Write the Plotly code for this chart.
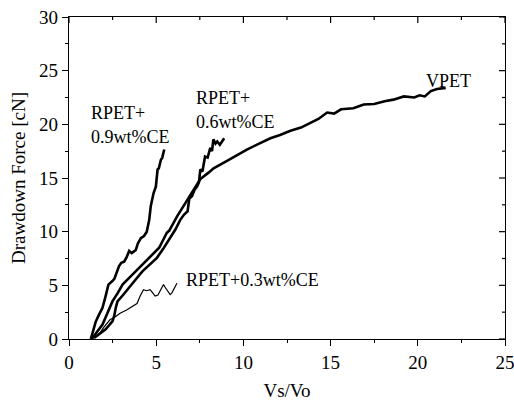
import plotly.graph_objects as go

# ---- data ----
x_09 = [1.25, 1.4, 1.53, 1.7, 1.92, 2.1, 2.26, 2.49, 2.6, 2.87, 3.0, 3.16, 3.3, 3.45, 3.6, 3.83,
        3.95, 4.12, 4.3, 4.46, 4.6, 4.69, 4.75, 4.85, 4.98, 5.08, 5.15, 5.27, 5.35, 5.46]
y_09 = [0.0, 0.8, 1.6, 2.2, 2.9, 4.0, 5.07, 5.4, 5.6, 6.8, 7.1, 7.2, 7.6, 8.2, 8.0, 8.3,
        8.9, 9.4, 9.6, 10.0, 11.1, 12.4, 12.9, 13.6, 14.2, 15.8, 15.9, 16.7, 16.9, 17.65]

x_06 = [1.44, 1.8, 2.1, 2.49, 2.6, 2.68, 2.78, 3.1, 3.45, 3.8, 4.21, 4.6, 4.98, 5.04, 5.4, 5.8,
        6.1, 6.38, 6.6, 6.8, 6.86, 6.9, 7.05, 7.2, 7.34, 7.45, 7.53, 7.65, 7.8, 7.95, 8.1, 8.2,
        8.28, 8.4, 8.5, 8.65, 8.9]
y_06 = [0.1, 0.5, 0.9, 1.65, 2.2, 2.9, 3.5, 4.1, 4.76, 5.5, 6.3, 6.9, 7.4, 7.56, 8.4, 9.4,
        10.2, 11.1, 11.6, 11.9, 13.0, 13.1, 13.3, 13.9, 14.2, 14.6, 15.8, 15.6, 17.0, 16.9, 17.8, 17.5,
        18.6, 18.2, 18.4, 18.1, 18.7]

x_03 = [1.3, 1.55, 1.78, 2.0, 2.36, 2.6, 2.93, 3.3, 3.7, 3.9, 4.08, 4.27, 4.45, 4.65, 4.8, 4.94,
        5.1, 5.25, 5.42, 5.52, 5.61, 5.8, 5.9, 6.0, 6.19]
y_03 = [0.0, 0.3, 0.57, 1.1, 1.81, 2.0, 2.4, 2.7, 3.05, 3.3, 4.0, 4.6, 4.5, 4.6, 4.3, 4.0,
        4.1, 4.6, 5.07, 4.8, 4.6, 4.14, 4.3, 4.6, 5.2]

x_v = [1.3, 1.6, 1.92, 2.2, 2.49, 2.8, 3.07, 3.45, 3.83, 4.2, 4.6, 5.17, 5.61, 5.75, 6.19, 6.5,
       6.76, 7.0, 7.53, 8.0, 8.29, 9.06, 9.6, 10.2, 10.9, 11.55, 12.1, 12.7, 13.3, 13.85, 14.3,
       14.8, 15.2, 15.6, 16.3, 16.9, 17.5, 18.1, 18.6, 19.2, 19.8, 20.1, 20.4, 20.75, 21.1, 21.6]
y_v = [0.0, 0.6, 1.34, 2.4, 3.5, 4.3, 5.07, 5.7, 6.3, 6.9, 7.56, 8.5, 9.9, 10.1, 11.4, 12.2,
       13.0, 13.6, 14.9, 15.5, 15.9, 16.6, 17.1, 17.65, 18.2, 18.7, 19.0, 19.4, 19.7, 20.1, 20.5,
       21.1, 21.0, 21.4, 21.5, 21.85, 21.9, 22.15, 22.3, 22.6, 22.5, 22.7, 22.6, 23.1, 23.3, 23.4]

labels = ["RPET+", "0.9wt%CE", "RPET+", "0.6wt%CE", "VPET", "RPET+0.3wt%CE"]
label_x = [1.15, 1.15, 7.18, 7.18, 20.33, 6.61]
label_y = [21.1, 18.86, 22.5, 20.26, 24.0, 5.47]

x_ticks = [0, 5, 10, 15, 20, 25]
y_ticks = [0, 5, 10, 15, 20, 25, 30]
x_minor = [2.5, 7.5, 12.5, 17.5, 22.5]
y_minor = [2.5, 7.5, 12.5, 17.5, 22.5, 27.5]

x_title = "Vs/Vo"
y_title = "Drawdown Force [cN]"
x_range = [0, 25]
y_range = [0, 30]

FONT = "Liberation Serif, Times New Roman, serif"
W, H = 514, 401
M = dict(l=69, r=9, t=17, b=62)
PLOT_W = W - M["l"] - M["r"]
PLOT_H = H - M["t"] - M["b"]

fig = go.Figure()
for xs, ys, w, nm in [(x_09, y_09, 2.6, "RPET+0.9wt%CE"),
                      (x_06, y_06, 2.6, "RPET+0.6wt%CE"),
                      (x_v, y_v, 2.6, "VPET"),
                      (x_03, y_03, 1.2, "RPET+0.3wt%CE")]:
    fig.add_trace(go.Scatter(x=xs, y=ys, mode="lines", name=nm,
                             line=dict(color="black", width=w)))

for t, xx, yy in zip(labels, label_x, label_y):
    fig.add_annotation(x=xx, y=yy, text=t, showarrow=False, xanchor="left",
                       yanchor="middle", font=dict(family=FONT, size=18, color="black"))

# inward ticks on the top and right frame edges (Origin-style box)
tick_line = dict(color="black", width=1.2)
for vals, length in [(x_ticks, 6), (x_minor, 3)]:
    for v in vals:
        fig.add_shape(type="line", xref="x", yref="paper", x0=v, x1=v,
                      y0=1, y1=1 - length / PLOT_H, line=tick_line)
for vals, length in [(y_ticks, 6), (y_minor, 3)]:
    for v in vals:
        fig.add_shape(type="line", xref="paper", yref="y", y0=v, y1=v,
                      x0=1, x1=1 - length / PLOT_W, line=tick_line)

common = dict(showgrid=False, zeroline=False, mirror=True, showline=True, linecolor="black",
              linewidth=1.2, tickcolor="black", tickwidth=1.2, automargin=False,
              ticks="outside", ticklen=6, ticklabeloverflow="allow",
              tickfont=dict(family=FONT, size=19))

fig.update_layout(
    width=W, height=H,
    margin=M,
    paper_bgcolor="white", plot_bgcolor="white",
    showlegend=False,
    font=dict(family=FONT, color="black"),
    xaxis=dict(range=x_range, tickvals=x_ticks,
               minor=dict(tickvals=x_minor, ticks="outside", ticklen=3,
                          tickcolor="black", tickwidth=1.2),
               title=dict(text=x_title, font=dict(family=FONT, size=19), standoff=14),
               **common),
    yaxis=dict(range=y_range, tickvals=y_ticks,
               minor=dict(tickvals=y_minor, ticks="outside", ticklen=3,
                          tickcolor="black", tickwidth=1.2),
               title=dict(text=y_title, font=dict(family=FONT, size=19), standoff=8),
               **common),
)

fig.write_html("out.html")
